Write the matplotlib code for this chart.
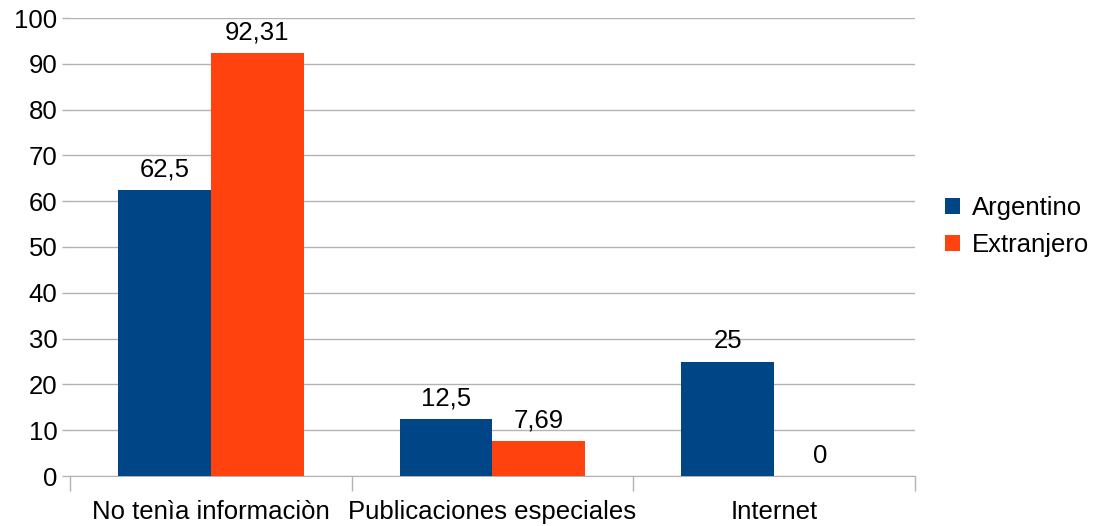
import matplotlib
matplotlib.use("Agg")
import matplotlib.pyplot as plt
import numpy as np

categories = ["No tenìa informaciòn", "Publicaciones especiales", "Internet"]
argentino = [62.5, 12.5, 25]
extranjero = [92.31, 7.69, 0]
labels_arg = ["62,5", "12,5", "25"]
labels_ext = ["92,31", "7,69", "0"]

plt.rcParams['font.family'] = ['Liberation Sans', 'DejaVu Sans']
FS = 18.5

fig = plt.figure(figsize=(10.96, 5.26), dpi=100)
ax = fig.add_axes([70/1096, 1-476/526, (915-70)/1096, (476-18)/526])

x = np.arange(len(categories))
w = 0.33
b1 = ax.bar(x - w/2, argentino, w, color="#004586", label="Argentino", zorder=3)
b2 = ax.bar(x + w/2, extranjero, w, color="#ff420e", label="Extranjero", zorder=3)

for rect, lab in zip(b1, labels_arg):
    ax.annotate(lab, (rect.get_x() + rect.get_width()/2, rect.get_height()),
                xytext=(0, 6), textcoords="offset points", ha="center", va="bottom", fontsize=FS)
for rect, lab in zip(b2, labels_ext):
    ax.annotate(lab, (rect.get_x() + rect.get_width()/2, rect.get_height()),
                xytext=(0, 6), textcoords="offset points", ha="center", va="bottom", fontsize=FS)

ax.set_xlim(-0.5, 2.5)
ax.set_ylim(0, 100)
ax.set_yticks(np.arange(0, 101, 10))
ax.yaxis.grid(True, color="#b3b3b3", linewidth=1, zorder=0)
ax.set_xticks([-0.5, 0.5, 1.5, 2.5])
ax.set_xticklabels([])
ax.set_xticks(x, minor=True)
ax.set_xticklabels(categories, minor=True, fontsize=FS)
ax.tick_params(axis="x", which="major", length=11, color="#b3b3b3", width=1)
ax.tick_params(axis="x", which="minor", length=0, pad=17)
ax.tick_params(axis="y", length=6, color="#b3b3b3", width=1, labelsize=FS, pad=3)
for s in ["top", "right", "left"]:
    ax.spines[s].set_visible(False)
ax.spines["bottom"].set_color("#b3b3b3")

ax.legend(loc="center left", bbox_to_anchor=(1.008, 0.545), frameon=False, fontsize=FS,
          handlelength=0.6, handleheight=0.6, handletextpad=0.45, labelspacing=0.5)

fig.savefig("out.png", dpi=100)
